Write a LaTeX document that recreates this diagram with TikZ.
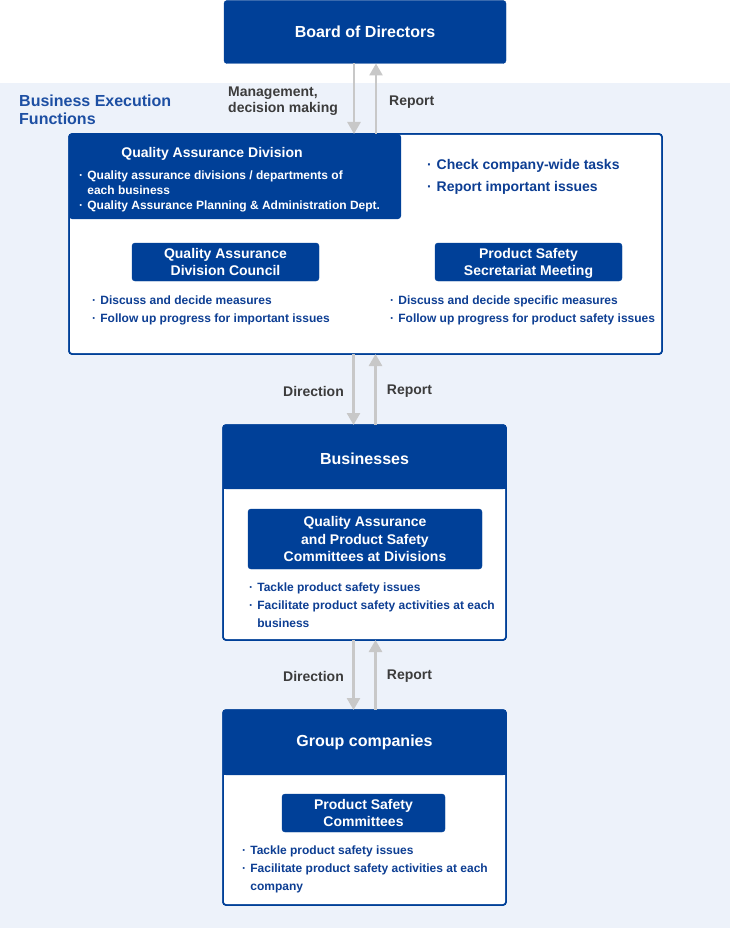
\documentclass[tikz,border=0pt]{standalone}
\usepackage{fontspec}
\setmainfont{Liberation Sans}
\usetikzlibrary{arrows.meta,calc}
\definecolor{navy}{HTML}{004098}
\definecolor{tblue}{HTML}{0D3E93}
\definecolor{hblue}{HTML}{1D4FA3}
\definecolor{tgray}{HTML}{3C3C3C}
\definecolor{agray}{HTML}{C8C8C8}
\definecolor{bgc}{HTML}{EDF2FA}
\newcommand{\bl}{\makebox[0.68em][l]{·}}
\newcommand{\fs}[2]{\bfseries\fontsize{#1}{#2}\selectfont}
\newcommand{\ts}{\rule{0pt}{13.5pt}}
\newcommand{\bs}{\rule[-3.5pt]{0pt}{3.5pt}}
\tikzset{
  navybox/.style={fill=navy, draw=navy, rounded corners=3pt, text=white, align=center, inner sep=0pt, outer sep=0pt},
  framebox/.style={fill=white, draw=navy, line width=1.5pt, rounded corners=3pt, inner sep=0pt, outer sep=0pt},
  outline/.style={draw=navy, line width=1.5pt, rounded corners=3pt},
  hdrfill/.style={fill=navy, rounded corners=3pt},
  conn/.style={draw=agray, line width=2.6pt, -{Triangle[width=13pt,length=12pt]}},
  wtext/.style={text=white, inner sep=0pt},
  btext/.style={text=tblue, inner sep=0pt, align=left},
  gtext/.style={text=tgray, inner sep=0pt, align=left, font=\fs{14}{16}},
}
\begin{document}
\begin{tikzpicture}[x=1pt,y=-1pt]
\useasboundingbox (0,0) rectangle (730,928);
\fill[white] (0,0) rectangle (730,928);
\fill[bgc] (0,83) rectangle (730,928);

% Board
\node[navybox, minimum width=282, minimum height=63, font=\fs{16}{18}] (board) at (365,32) {Board of Directors};

% Business execution label
\node[text=hblue, inner sep=0pt, align=left, anchor=west, font=\fs{16}{18}] (bef) at (19,110) {Business Execution\\Functions};

% QA frame
\node[framebox, minimum width=593, minimum height=220] (qa) at (365.5,244) {};
\fill[hdrfill] (qa.north west) rectangle (401,219);
\draw[outline] (qa.north west) rectangle (qa.south east);

\node[wtext, font=\fs{14}{16}] (qadt) at (212,154) {Quality Assurance Division};
\node[wtext, align=left, anchor=west, font=\fs{12}{15}] (qadb) at (79,191) {\bl Quality assurance divisions / departments of\\\hspace*{0.68em}each business\\\bl Quality Assurance Planning \& Administration Dept.};
\node[btext, anchor=west, font=\fs{14}{22}] (qar) at (427,176.5) {\bl Check company-wide tasks\\\bl Report important issues};

\node[navybox, minimum width=187, minimum height=38, font=\fs{14}{17.5}] (qadc) at (225.5,262) {\ts Quality Assurance\\Division Council\bs};
\node[navybox, minimum width=187, minimum height=38, font=\fs{14}{17.5}] (pssm) at (528.5,262) {\ts Product Safety\\Secretariat Meeting\bs};
\node[btext, anchor=west, font=\fs{12}{18}] (qadcb) at (92,310.5) {\bl Discuss and decide measures\\\bl Follow up progress for important issues};
\node[btext, anchor=west, font=\fs{12}{18}] (pssmb) at (390,310.5) {\bl Discuss and decide specific measures\\\bl Follow up progress for product safety issues};

% Businesses
\node[framebox, minimum width=283, minimum height=215] (bus) at (364.5,532.5) {};
\fill[hdrfill] (bus.north west) rectangle (bus.east |- 0,489);
\fill[navy] ($(bus.north west)+(0,10)$) rectangle (bus.east |- 0,489);
\draw[outline] (bus.north west) rectangle (bus.south east);
\node[wtext, font=\fs{16}{18}] (bust) at (364.5,459) {Businesses};
\node[navybox, minimum width=234, minimum height=60, font=\fs{14}{17.5}] (qapsc) at (365,539) {\ts Quality Assurance\\and Product Safety\\Committees at Divisions\bs};
\node[btext, anchor=west, font=\fs{12}{18}] (busb) at (249,605.5) {\bl Tackle product safety issues\\\bl Facilitate product safety activities at each\\\hspace*{0.68em}business};

% Group companies
\node[framebox, minimum width=283, minimum height=195] (grp) at (364.5,807.5) {};
\fill[hdrfill] (grp.north west) rectangle (grp.east |- 0,775);
\fill[navy] ($(grp.north west)+(0,10)$) rectangle (grp.east |- 0,775);
\draw[outline] (grp.north west) rectangle (grp.south east);
\node[wtext, font=\fs{16}{18}] (grpt) at (364.5,742) {Group companies};
\node[navybox, minimum width=163, minimum height=38, font=\fs{14}{17.5}] (psc) at (363.5,813) {\ts Product Safety\\Committees\bs};
\node[btext, anchor=west, font=\fs{12}{18}] (grpb) at (242,869.5) {\bl Tackle product safety issues\\\bl Facilitate product safety activities at each\\\hspace*{0.68em}company};

% Connectors
\draw[conn] ([xshift=-11pt]board.south) -- ([xshift=-11pt]board.south |- qa.north);
\draw[conn] ([xshift=11pt]board.south |- qa.north) -- ([xshift=11pt]board.south);
\draw[conn] ([xshift=-11pt]bus.north |- qa.south) -- ([xshift=-11pt]bus.north);
\draw[conn] ([xshift=11pt]bus.north) -- ([xshift=11pt]bus.north |- qa.south);
\draw[conn] ([xshift=-11pt]bus.south) -- ([xshift=-11pt]grp.north);
\draw[conn] ([xshift=11pt]grp.north) -- ([xshift=11pt]bus.south);

% Connector labels
\node[gtext, anchor=west] (l1) at (228,101) {Management,\\decision making};
\node[gtext, anchor=west] (l2) at (389,102) {Report};
\node[gtext] (l3) at (313.5,391) {Direction};
\node[gtext] (l4) at (409.5,391) {Report};
\node[gtext] (l5) at (313.5,676) {Direction};
\node[gtext] (l6) at (409.5,676) {Report};
\end{tikzpicture}
\end{document}
